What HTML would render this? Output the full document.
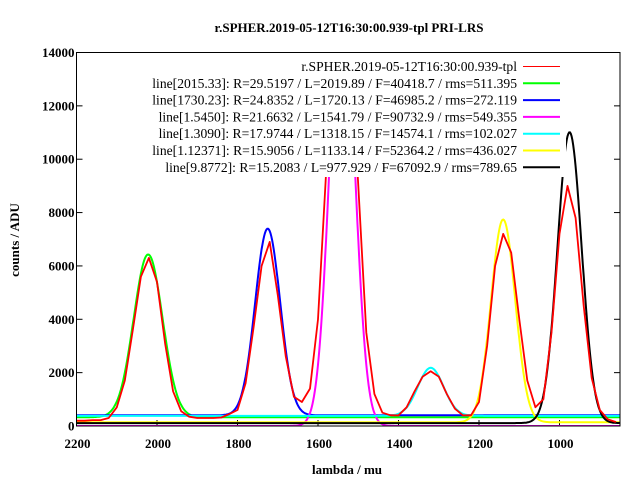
<!DOCTYPE html>
<html><head><meta charset="utf-8">
<style>
html,body{margin:0;padding:0;background:#fff;}
svg{display:block;font-family:"Liberation Serif",serif;}
</style></head>
<body>
<svg id="chart" width="640" height="480" viewBox="0 0 640 480" xmlns="http://www.w3.org/2000/svg">
<text x="349" y="32" font-size="13" text-anchor="middle" font-weight="bold">r.SPHER.2019-05-12T16:30:00.939-tpl   PRI-LRS</text>
<text x="0" y="0" font-size="13" font-weight="bold" text-anchor="middle" transform="translate(19,240) rotate(-90)">counts / ADU</text>
<text x="347" y="474" font-size="13" font-weight="bold" text-anchor="middle">lambda / mu</text>
<defs><clipPath id="plotclip"><rect x="76" y="52.5" width="544" height="373.5"/></clipPath></defs>
<g id="ticks"></g>
<g id="series" clip-path="url(#plotclip)"></g>
<rect x="146" y="53" width="420" height="124" fill="#fff"/>
<rect x="76.5" y="52.5" width="543.5" height="373.5" fill="none" stroke="#000" stroke-width="1"/>
<g id="legend"></g>
</svg>
<script>
const xTicks=[2200,2000,1800,1600,1400,1200,1000];
const yTicks=[0,2000,4000,6000,8000,10000,12000,14000];
const dataLambda=[2200,2180,2160,2140,2120,2100,2080,2060,2040,2020,2000,1980,1960,1940,1920,1900,1880,1860,1840,1820,1800,1780,1760,1740,1720,1700,1680,1660,1640,1620,1600,1580,1560,1540,1520,1500,1480,1460,1440,1420,1400,1380,1360,1340,1320,1300,1280,1260,1240,1220,1200,1180,1160,1140,1120,1100,1080,1060,1040,1020,1000,980,960,940,920,900,880,860];
const dataCounts=[200,200,220,220,300,700,1700,3600,5600,6300,5400,3100,1300,550,350,300,300,300,320,450,600,1600,3700,6000,6900,4900,2600,1100,900,1400,4000,9500,14500,16000,14500,9000,3500,1200,500,400,400,700,1300,1850,2050,1850,1200,650,400,400,900,3000,6000,7200,6500,4000,1700,700,1000,3500,7200,9000,7800,4500,1800,600,250,150];
const fitNames=["line[2015.33]: R=29.5197 / L=2019.89 / F=40418.7 / rms=511.395","line[1730.23]: R=24.8352 / L=1720.13 / F=46985.2 / rms=272.119","line[1.5450]: R=21.6632 / L=1541.79 / F=90732.9 / rms=549.355","line[1.3090]: R=17.9744 / L=1318.15 / F=14574.1 / rms=102.027","line[1.12371]: R=15.9056 / L=1133.14 / F=52364.2 / rms=436.027","line[9.8772]: R=15.2083 / L=977.929 / F=67092.9 / rms=789.65"];
const fitCenter=[2022,1725,1540,1320,1140,975];
const fitAmp=[6100,7000,17000,1800,7600,10900];
const fitSigma=[36,31,30,32,30,30];
const fitBase=[330,400,0,380,140,110];
const fitColors=["#00ff00","#0000ff","#ff00ff","#00ffff","#ffff00","#000000"];

const NS="http://www.w3.org/2000/svg";
const X0=76.5,X1=620,Y0=426,Y1=52.5;
const xs=l=>X0+(2200-l)*0.4025;
const ys=v=>Y0-v*(Y0-Y1)/14000;
function mk(tag,attrs,parent){const e=document.createElementNS(NS,tag);for(const k in attrs)e.setAttribute(k,attrs[k]);parent.appendChild(e);return e;}
const tg=document.getElementById('ticks');
xTicks.forEach(t=>{
  const x=xs(t);
  const a=mk('line',{x1:x,y1:Y0,x2:x,y2:Y0-6,stroke:'#000'},tg);
  
  
  const b=mk('line',{x1:x,y1:Y1,x2:x,y2:Y1+6,stroke:'#000'},tg);
  
  
  const tx=mk('text',{x:x+1,y:Y0+22,'font-size':13,'font-weight':'bold','text-anchor':'middle'},tg);
  tx.textContent=t;
  
  
});
yTicks.forEach(t=>{
  const y=ys(t);
  const a=mk('line',{x1:X0,y1:y,x2:X0+6,y2:y,stroke:'#000'},tg);
  
  
  const b=mk('line',{x1:X1,y1:y,x2:X1-6,y2:y,stroke:'#000'},tg);
  
  
  const tx=mk('text',{x:X0-2,y:y+4.5,'font-size':13,'font-weight':'bold','text-anchor':'end'},tg);
  tx.textContent=t;
  
  
});
const sg=document.getElementById('series');
fitNames.forEach((n,i)=>{
  let pts=[];
  for(let l=2200;l>=848;l-=2){
    const d=l-fitCenter[i];
    const v=fitBase[i]+fitAmp[i]*Math.exp(-d*d/(2*fitSigma[i]*fitSigma[i]));
    pts.push(xs(l).toFixed(1)+','+ys(v).toFixed(1));
  }
  const p=mk('polyline',{points:pts.join(' '),fill:'none',stroke:fitColors[i],'stroke-width':2},sg);
  
  
});
const rp=mk('polyline',{points:dataLambda.map((l,i)=>xs(l).toFixed(1)+','+ys(dataCounts[i]).toFixed(1)).join(' '),fill:'none',stroke:'#ff0000','stroke-width':1.8,'stroke-linejoin':'round'},sg);


const lg=document.getElementById('legend');
const labels=["r.SPHER.2019-05-12T16:30:00.939-tpl"].concat(fitNames);
const colors=["#ff0000"].concat(fitColors);
labels.forEach((n,i)=>{
  const y=66.5+i*16.8;
  const t=mk('text',{x:517,y:y+4.5,'font-size':13.6,'text-anchor':'end'},lg);
  t.textContent=n;
  
  
  const s=mk('line',{x1:523,y1:y,x2:560,y2:y,stroke:colors[i],'stroke-width':i==0?1:2},lg);
  
  
});
</script>
</body></html>
